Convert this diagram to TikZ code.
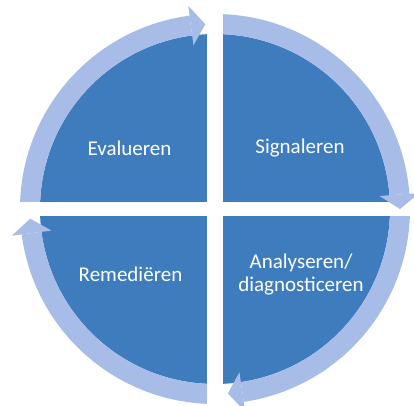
\documentclass[tikz,border=0pt]{standalone}
\usepackage{fontspec}
\setmainfont{Carlito}
\definecolor{quadblue}{RGB}{62,124,190}
\definecolor{ringblue}{RGB}{168,188,232}

\begin{document}
\begin{tikzpicture}[x=1pt,y=1pt,
	label/.style={text=white,font=\fontsize{21}{23}\selectfont,align=center}]
	\useasboundingbox (-215,-196) rectangle (199,209);
	\fill[quadblue] (0,0) circle (175pt);
	\foreach \s/\t in {180/93, 90/0, 0/-86, 270/183} {
		\pgfmathsetmacro\b{\t+4.5}
		\fill[ringblue] (\s:175pt) arc (\s:\b:175pt) -- (\b:195pt) arc (\b:\s:195pt) -- cycle;
	}
	\fill[white] (-8,-205) rectangle (8,205);
	\fill[white] (-205,-7) rectangle (205,7);
	\foreach \t in {93, 0, -86, 183} {
		\pgfmathsetmacro\b{\t+4.5}
		\fill[ringblue] (\b:165pt) -- (\t:185pt) -- (\b:205pt) -- cycle;
	}
	
	\node[label] (eval) at (-85.5,61) {Evalueren};
	\node[label] (signal) at (85,61) {Signaleren};
	\node[label] (remedie) at (-84.5,-65) {Remediëren};
	\node[label] (analyse) at (86,-66) {Analyseren/\\diagnosticeren};
\end{tikzpicture}
\end{document}
